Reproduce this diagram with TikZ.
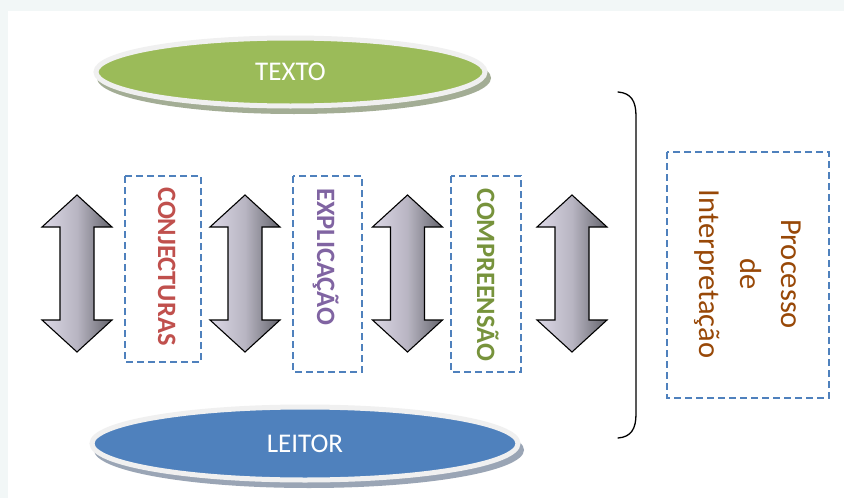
\documentclass[tikz,border=0pt]{standalone}
\usepackage{fontspec}
\setmainfont{Carlito}
\usetikzlibrary{shadings,shapes.geometric}
\definecolor{bgband}{HTML}{F2F7F7}
\definecolor{txgreen}{HTML}{9BBB59}
\definecolor{txshadow}{HTML}{A3AD95}
\definecolor{lblue}{HTML}{4F81BD}
\definecolor{lshadow}{HTML}{9AA5B5}
\definecolor{rimcol}{HTML}{F0F0F0}
\definecolor{dashblue}{HTML}{4F81BD}
\definecolor{conjred}{HTML}{C0504D}
\definecolor{explpurple}{HTML}{8064A2}
\definecolor{compgreen}{HTML}{77933C}
\definecolor{procbrown}{HTML}{984807}
\definecolor{arrlight}{HTML}{DCD8E6}
\definecolor{arrmid}{HTML}{B8B5C2}
\definecolor{arrdark}{HTML}{64646C}
\tikzset{
  dashbox/.style={draw=dashblue, line width=1.8pt, dash pattern=on 7pt off 4pt},
  collabel/.style={rotate=-90, anchor=base west, inner sep=0pt, font=\fontsize{26.5}{30}\selectfont\bfseries},
  ovaltext/.style={text=white, font=\fontsize{27}{31}\selectfont},
  bidir/.style={draw=black, line width=1.1pt, line join=miter, left color=arrlight, right color=arrdark, middle color=arrmid},
}
\newcommand{\udarr}[1]{%
  \draw[bidir] (#1,195) -- (#1+35,227) -- (#1+17,227) -- (#1+17,320) -- (#1+35,320) -- (#1,352) -- (#1-35,320) -- (#1-17,320) -- (#1-17,227) -- (#1-35,227) -- cycle;}
\begin{document}
\begin{tikzpicture}[x=1pt, y=-1pt]
\useasboundingbox (0,0) rectangle (844,498);
\fill[bgband] (0,0) rectangle (844,498);
\fill[white] (8,11) rectangle (844,498);

% TEXTO oval
\fill[txshadow] (294,78) ellipse [x radius=197, y radius=36];
\node[ellipse, fill=txgreen, draw=rimcol, line width=5pt, minimum width=389pt, minimum height=68pt, inner sep=0pt] (texto) at (290.5,72) {};
\node[ovaltext] (textolbl) at (texto.center) {TEXTO};

% LEITOR oval
\fill[lshadow] (309,450) ellipse [x radius=215, y radius=38];
\node[ellipse, fill=lblue, draw=rimcol, line width=5pt, minimum width=426pt, minimum height=73pt, inner sep=0pt] (leitor) at (305,443.5) {};
\node[ovaltext] (leitorlbl) at (leitor.center) {LEITOR};

% double arrows
\udarr{77}
\udarr{245}
\udarr{407.5}
\udarr{572}

% dashed boxes
\draw[dashbox] (125,176) rectangle (201,362);
\draw[dashbox] (293,176) rectangle (362,372);
\draw[dashbox] (451,176) rectangle (521,372);
\node[collabel, text=conjred] (conj) at (158,187) {CONJECTURAS};
\node[collabel, text=explpurple] (expl) at (317,188) {EXPLICAÇÃO};
\node[collabel, text=compgreen] (comp) at (477,188) {COMPREENSÃO};

% brace
\draw[line width=1.3pt, line cap=round] (618,92) .. controls (631,93) and (636,101) .. (636,116) -- (636,414) .. controls (636,429) and (631,437) .. (618,438);

% process box
\draw[dashbox] (667,152) rectangle (829,398);
\node[rotate=-90, align=center, text=procbrown, font=\fontsize{30.5}{41}\selectfont, inner sep=0pt] (proc) at (748,274) {Processo\\de\\Interpretação};
\end{tikzpicture}
\end{document}
